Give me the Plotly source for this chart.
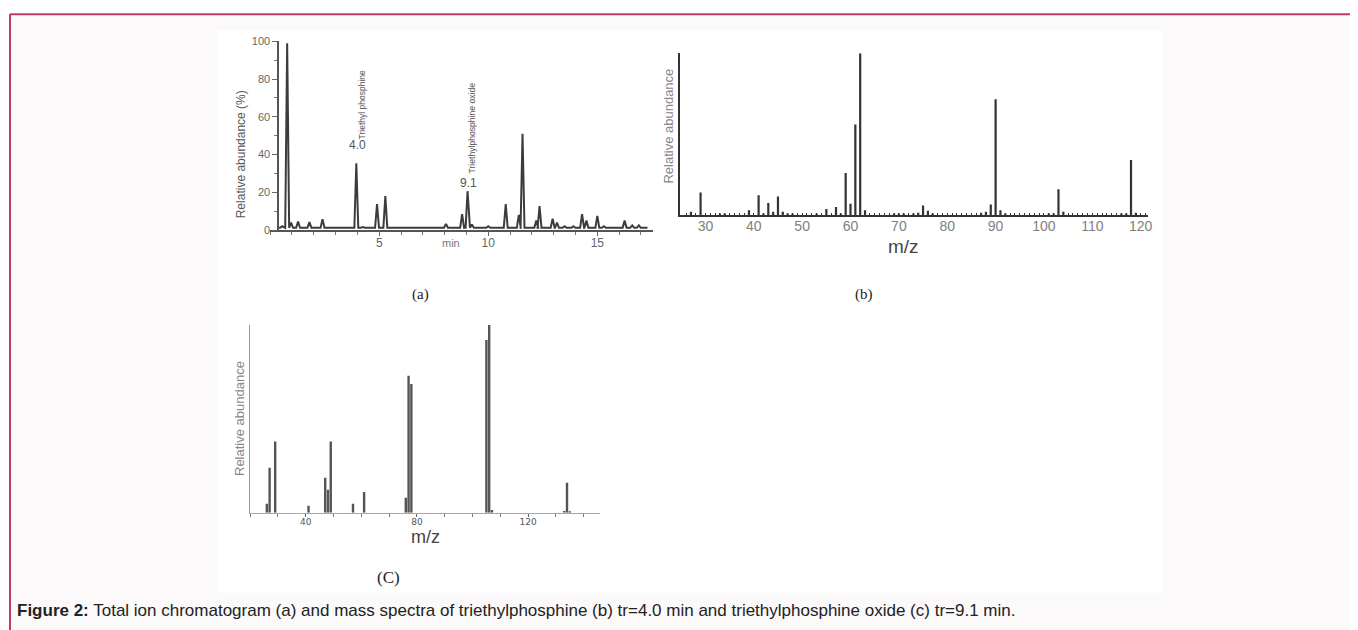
import plotly.graph_objects as go

W, H = 1358, 630

# ---------------- data ----------------
# (a) total ion chromatogram: peak apex times (min) and heights (%)
tic_peak_time = [0.55, 0.78, 0.96, 1.28, 1.80, 2.40, 3.95, 4.25, 4.90, 5.28, 5.72, 6.38, 6.74,
                 7.14, 7.60, 8.06, 8.80, 9.05, 9.25, 10.00, 10.80, 11.40, 11.57, 12.20, 12.35,
                 12.95, 13.15, 13.50, 13.90, 14.30, 14.50, 15.00, 15.30, 16.25, 16.60, 16.90]
tic_peak_abund = [2.0, 99.0, 4.0, 4.5, 4.2, 5.8, 35.4, 1.6, 13.7, 18.0, 1.5, 1.2, 1.2,
                  1.6, 1.3, 3.3, 8.5, 20.6, 3.0, 2.0, 13.7, 8.0, 51.0, 5.0, 12.7,
                  6.0, 4.0, 2.0, 2.0, 8.5, 5.0, 7.5, 2.0, 5.0, 2.5, 2.5]
tic_baseline = 1.2
tic_start, tic_end = 0.35, 17.3

# (b) mass spectrum of triethylphosphine (tr = 4.0 min)
mz_b = [27, 29, 33, 34, 39, 41, 42, 43, 44, 45, 46, 47, 48, 53, 55, 57, 58, 59, 60, 61, 62, 63,
        69, 70, 71, 73, 74, 75, 76, 77, 87, 88, 89, 90, 91, 92, 101, 102, 103, 104, 116, 117, 118, 119]
ab_b = [2, 14, 1, 1, 3, 12.3, 1, 7.4, 2, 11.5, 2, 1, 1, 1, 3.7, 5, 1, 26, 7, 56, 100, 3,
        1, 1, 1, 1, 1.5, 6, 2.7, 1, 1.5, 2, 6.6, 71.6, 3, 1, 1, 1, 16, 2, 1, 1, 34, 1.5]

# (c) mass spectrum of triethylphosphine oxide (tr = 9.1 min)
mz_c = [26, 27, 29, 41, 47, 48, 49, 57, 61, 76, 77, 78, 105, 106, 107, 133, 134, 135]
ab_c = [4.8, 24, 38, 3.7, 18.6, 12.3, 38, 4.8, 11, 8, 73, 68.6, 92, 100, 1.5, 1, 16, 0.8]

# tick labels
ticks_a_x = [5, 10, 15]
ticks_a_y = [0, 20, 40, 60, 80, 100]
ticks_b_x = [30, 40, 50, 60, 70, 80, 90, 100, 110, 120]
ticks_c_x = [40, 80, 120]

caption = ("<b>Figure 2:</b> Total ion chromatogram (a) and mass spectra of triethylphosphine (b) "
           "tr=4.0 min and triethylphosphine oxide (c) tr=9.1 min.")


# map target screen pixels to paper coordinates (compensates page offset)
def px(x):
    return ((x - 8.0) / 0.9957) / W


def py(y):
    return 1 - ((y - 12.7) / 0.982) / H


# chromatogram polyline from the peak list
hw = 0.09
tx, ty = [tic_start], [tic_baseline]
for t, h in zip(tic_peak_time, tic_peak_abund):
    tx += [t - hw, t, t + hw]
    ty += [tic_baseline, h, tic_baseline]
tx.append(tic_end)
ty.append(tic_baseline)


def sticks(mz, ab):
    xs, ys = [], []
    for m, a in zip(mz, ab):
        xs += [m, m, None]
        ys += [0, a, None]
    return xs, ys


bx, by = sticks(mz_b, ab_b)
cx, cy = sticks(mz_c, ab_c)

fig = go.Figure()
fig.add_trace(go.Scatter(x=tx, y=ty, mode="lines", line=dict(color="#3c3c3c", width=2),
                         xaxis="x", yaxis="y", hoverinfo="skip"))
fig.add_trace(go.Scatter(x=bx, y=by, mode="lines", line=dict(color="#333333", width=2.2),
                         xaxis="x2", yaxis="y2", hoverinfo="skip"))
fig.add_trace(go.Scatter(x=cx, y=cy, mode="lines", line=dict(color="#555555", width=2.4),
                         xaxis="x3", yaxis="y3", hoverinfo="skip"))

sans = "Liberation Sans, Arial, sans-serif"
narrow = "Liberation Sans Narrow, Arial Narrow, Liberation Sans, Arial, sans-serif"
serif = "Liberation Serif, Times New Roman, serif"

fig.update_layout(
    width=W, height=H,
    margin=dict(l=0, r=0, t=0, b=0),
    paper_bgcolor="white",
    plot_bgcolor="rgba(0,0,0,0)",
    showlegend=False,
    xaxis=dict(domain=[px(270), px(653)], range=[0, 17.57], anchor="y",
               showline=True, linecolor="#555", linewidth=1.5,
               tickvals=ticks_a_x, ticks="outside", ticklen=4, tickcolor="#666",
               minor=dict(dtick=1, tick0=0, ticks="outside", ticklen=3, tickcolor="#777"),
               showgrid=False, zeroline=False, ticklabelstandoff=-3,
               tickfont=dict(family=sans, size=12, color="#666")),
    yaxis=dict(domain=[py(229), py(40)], range=[0, 100], anchor="free", position=px(278),
               showline=True, linecolor="#555", linewidth=1.5,
               tickvals=ticks_a_y, ticks="outside", ticklen=5, tickcolor="#666",
               minor=dict(dtick=10, tick0=0, ticks="outside", ticklen=3, tickcolor="#777"),
               showgrid=False, zeroline=False,
               tickfont=dict(family=sans, size=11, color="#666")),
    xaxis2=dict(domain=[px(680), px(1147)], range=[24.83, 121.45], anchor="y2",
                showline=True, linecolor="#333", linewidth=2,
                tickvals=ticks_b_x, ticks="inside", ticklen=2, tickcolor="#333",
                minor=dict(dtick=1, tick0=0, ticks="inside", ticklen=2, tickcolor="#333"),
                showgrid=False, zeroline=False, ticklabelstandoff=-3,
                tickfont=dict(family=narrow, size=14, color="#808080")),
    yaxis2=dict(domain=[py(214), py(52)], range=[0, 100], anchor="x2",
                showline=True, linecolor="#333", linewidth=1.5,
                showticklabels=False, ticks="", showgrid=False, zeroline=False),
    xaxis3=dict(domain=[px(250), px(600)], range=[20, 146], anchor="y3",
                showline=True, linecolor="#c99a9a", linewidth=1,
                tickvals=ticks_c_x, ticks="outside", ticklen=3, tickcolor="#666",
                minor=dict(dtick=10, tick0=0, ticks="outside", ticklen=3, tickcolor="#777"),
                showgrid=False, zeroline=False, ticklabelstandoff=-3,
                tickfont=dict(family="DejaVu Sans, sans-serif", size=9, color="#555")),
    yaxis3=dict(domain=[py(512), py(324)], range=[0, 100], anchor="x3",
                showline=True, linecolor="#999", linewidth=1,
                showticklabels=False, ticks="", showgrid=False, zeroline=False),
)

shapes = [
    dict(type="rect", xref="paper", yref="paper", x0=px(10), x1=1.01, y0=-0.01, y1=py(13),
         fillcolor="#fbf9fa", line=dict(width=0), layer="below"),
    dict(type="rect", xref="paper", yref="paper", x0=px(218), x1=px(1162), y0=py(592), y1=py(29),
         fillcolor="white", line=dict(width=0), layer="below"),
    dict(type="line", xref="paper", yref="paper", x0=px(10), x1=1.01, y0=py(13), y1=py(13),
         line=dict(color="#bf3a66", width=2)),
    dict(type="line", xref="paper", yref="paper", x0=px(10), x1=px(10), y0=-0.01, y1=py(13),
         line=dict(color="#bf3a66", width=2)),
]
fig.update_layout(shapes=shapes)


def ann(x, y, text, size, color, family=sans, angle=0, xanchor="center"):
    return dict(x=px(x), y=py(y), xref="paper", yref="paper", text=text, showarrow=False,
                xanchor=xanchor, yanchor="middle", textangle=angle,
                font=dict(family=family, size=size, color=color))


annotations = [
    ann(362, 104, "Triethyl phosphine", 8.5, "#555", angle=-90),
    ann(357, 144, "4.0", 12, "#555"),
    ann(472, 127, "Triethylphosphine oxide", 8.6, "#555", angle=-90),
    ann(468, 182, "9.1", 12, "#555"),
    ann(451, 242, "min", 11, "#777"),
    ann(241, 153, "Relative abundance (%)", 12, "#555", angle=-90),
    ann(668, 125, "Relative abundance", 13, "#888", angle=-90),
    ann(903, 245, "m/z", 19, "#444", family=narrow),
    ann(240, 418, "Relative abundance", 13, "#888", angle=-90),
    ann(425, 536, "m/z", 18, "#444"),
    ann(420, 293, "(a)", 15, "#222", family=serif),
    ann(863, 293, "(b)", 15, "#222", family=serif),
    ann(388, 577, "(C)", 17, "#222", family=serif),
    ann(15, 610, caption, 17, "#222", xanchor="left"),
]
fig.update_layout(annotations=annotations)

fig.write_html("out.html")
